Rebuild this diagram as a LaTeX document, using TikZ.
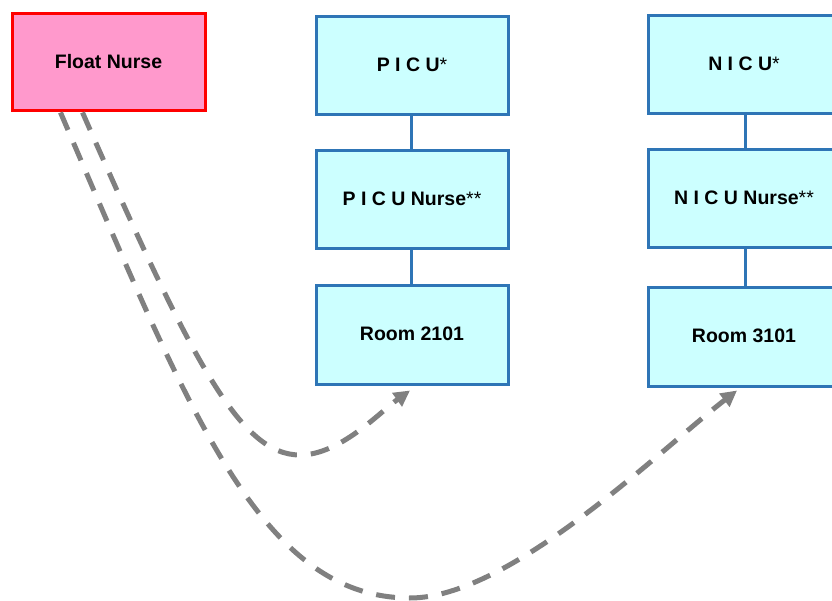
\documentclass[tikz,border=0pt]{standalone}
\usepackage{fontspec}
\setmainfont{Liberation Sans}
\usetikzlibrary{arrows.meta}
\definecolor{boxblue}{HTML}{2E75B6}
\definecolor{boxfill}{HTML}{CCFFFF}
\definecolor{floatfill}{HTML}{FF99CC}
\definecolor{floatred}{HTML}{FF0000}
\definecolor{dashgray}{HTML}{808080}
\tikzset{
  unitbox/.style={draw=boxblue, line width=3pt, fill=boxfill, minimum width=192pt, minimum height=98pt,
    inner sep=0pt, font=\fontsize{19.5}{22}\selectfont\bfseries},
  floatbox/.style={draw=floatred, line width=3pt, fill=floatfill, minimum width=193pt, minimum height=97pt,
    inner sep=0pt, font=\fontsize{19.5}{22}\selectfont\bfseries},
  link/.style={draw=boxblue, line width=3pt},
  move/.style={draw=dashgray, line width=5pt, dash pattern=on 19pt off 14pt,
    -{Triangle[length=16pt,width=16pt]}}
}
\newcommand{\mystar}{{\mdseries *}}
\newcommand{\lift}[1]{\raisebox{2.5pt}{#1}}
\begin{document}
\begin{tikzpicture}[x=1pt,y=-1pt]
\useasboundingbox (0,0) rectangle (832,601);
\fill[white] (0,0) rectangle (832,601);
\node[floatbox] (fn) at (108.5,62.5) {\lift{Float Nurse}};
\node[unitbox] (picu) at (412,65.5) {\lift{P I C U\mystar}};
\node[unitbox] (picun) at (412,200) {\lift{P I C U Nurse\mystar\mystar}};
\node[unitbox] (r2101) at (412,335) {\lift{Room 2101}};
\node[unitbox] (nicu) at (744,65) {\lift{N I C U\mystar}};
\node[unitbox] (nicun) at (744,199) {\lift{N I C U Nurse\mystar\mystar}};
\node[unitbox] (r3101) at (744,337) {\lift{Room 3101}};
\draw[link] (picu.south -| 411,0) -- (picun.north -| 411,0);
\draw[link] (picun.south -| 411,0) -- (r2101.north -| 411,0);
\draw[link] (nicu.south -| 745,0) -- (nicun.north -| 745,0);
\draw[link] (nicun.south -| 745,0) -- (r3101.north -| 745,0);
\coordinate (a1) at ([xshift=-26pt]fn.south);
\coordinate (a2) at ([xshift=-48pt]fn.south);
\coordinate (t1) at ([xshift=-2pt,yshift=-5pt]r2101.south);
\coordinate (t2) at ([xshift=-7pt,yshift=-3pt]r3101.south);
\draw[move] (a1) .. controls (192,362) and (240,455) .. (300,455)
  .. controls (340,455) and (380,412) .. (t1);
\draw[move] (a2) .. controls (189,412) and (260,598) .. (410,598)
  .. controls (510,598) and (660,450) .. (t2);
\end{tikzpicture}
\end{document}
